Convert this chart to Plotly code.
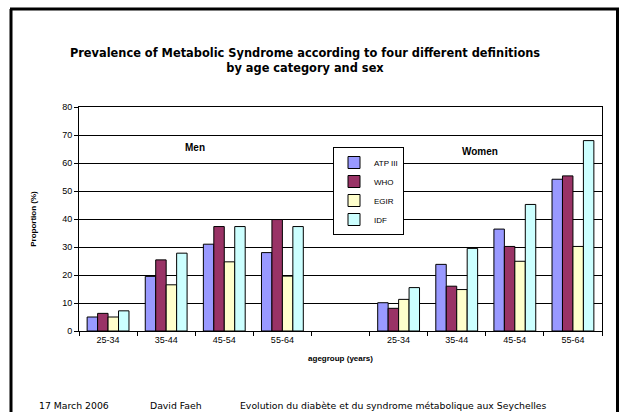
import plotly.graph_objects as go

# ---- data ----
age_groups = ["25-34", "35-44", "45-54", "55-64"]
definitions = ["ATP III", "WHO", "EGIR", "IDF"]
men_atp = [5.0, 19.5, 31.0, 28.0]
men_who = [6.3, 25.4, 37.3, 39.8]
men_egir = [5.0, 16.5, 24.7, 19.6]
men_idf = [7.2, 27.8, 37.3, 37.3]
women_atp = [10.1, 23.8, 36.4, 54.2]
women_who = [8.1, 16.0, 30.2, 55.4]
women_egir = [11.3, 14.8, 24.9, 30.2]
women_idf = [15.5, 29.5, 45.2, 68.0]
colors = ["#9999FF", "#993366", "#FFFFCC", "#CCFFFF"]

men_series = [men_atp, men_who, men_egir, men_idf]
women_series = [women_atp, women_who, women_egir, women_idf]

# positions: men 0..3, empty slot 4, women 5..8
men_x = [0, 1, 2, 3]
women_x = [5, 6, 7, 8]
xpos = men_x + women_x
xlabels = age_groups + age_groups

# ---- layout geometry (pixels, window coords) ----
W, H = 621, 412
PL, PR, PT, PB = 79, 602, 107, 331


def px(x):
    return (x - PL) / (PR - PL)


def py(y):
    return (PB - y) / (PB - PT)


fig = go.Figure()
for name, m, w, c in zip(definitions, men_series, women_series, colors):
    fig.add_trace(go.Bar(
        x=xpos, y=m + w, name=name,
        marker=dict(color=c, line=dict(color="black", width=1)),
    ))

axis_font = dict(family="Arial, Liberation Sans", size=9, color="black")

fig.update_layout(
    width=W, height=H,
    margin=dict(l=PL, r=W - PR, t=PT, b=H - PB, pad=0),
    paper_bgcolor="white", plot_bgcolor="white",
    barmode="group", bargap=0.28, bargroupgap=0,
    showlegend=True,
    legend=dict(
        x=px(333), y=py(147), xanchor="left", yanchor="top",
        bgcolor="white", bordercolor="black", borderwidth=1,
        font=dict(family="Arial, Liberation Sans", size=8, color="black"),
        itemwidth=30, tracegroupgap=0,
    ),
    title=dict(
        text="<b>Prevalence of Metabolic Syndrome according to four different definitions<br>by age category and sex</b>",
        x=305 / W, xref="container", xanchor="center",
        y=1 - 57 / H, yref="container", yanchor="top",
        font=dict(family="Verdana, DejaVu Sans", size=11.4, color="black"),
    ),
    font=axis_font,
)

fig.update_xaxes(
    range=[-0.5, 8.5],
    tickmode="array", tickvals=xpos, ticktext=xlabels, ticks="",
    minor=dict(tickmode="linear", tick0=-0.5, dtick=1, ticks="outside",
               ticklen=4, tickcolor="black", showgrid=False),
    showline=True, linecolor="black", linewidth=1, mirror=True,
    showgrid=False, zeroline=False,
    tickfont=axis_font,
    title=dict(text="<b>agegroup (years)</b>", standoff=11,
               font=dict(family="Arial, Liberation Sans", size=8, color="black")),
)
fig.update_yaxes(
    range=[0, 80], dtick=10, tick0=0,
    ticks="outside", ticklen=4, tickcolor="black",
    showline=True, linecolor="black", linewidth=1, mirror=True,
    showgrid=True, gridcolor="black", gridwidth=1, zeroline=False,
    tickfont=axis_font,
    title=dict(text="<b>Proportion (%)</b>", standoff=24,
               font=dict(family="Arial, Liberation Sans", size=8, color="black")),
)

# sex labels
fig.add_annotation(x=1.5, y=py(147), yref="paper", xref="x", text="<b>Men</b>",
                   showarrow=False, yanchor="middle",
                   font=dict(family="Arial, Liberation Sans", size=10, color="black"))
fig.add_annotation(x=6.4, y=py(151), yref="paper", xref="x", text="<b>Women</b>",
                   showarrow=False, yanchor="middle",
                   font=dict(family="Arial, Liberation Sans", size=10, color="black"))

# footer
foot_font = dict(family="Verdana, DejaVu Sans", size=9.3, color="black")
fig.add_annotation(x=px(37), y=py(405), xref="paper", yref="paper", text="17 March 2006",
                   showarrow=False, xanchor="left", yanchor="middle", font=foot_font)
fig.add_annotation(x=px(148), y=py(405), xref="paper", yref="paper", text="David Faeh",
                   showarrow=False, xanchor="left", yanchor="middle", font=foot_font)
fig.add_annotation(x=px(238), y=py(405), xref="paper", yref="paper",
                   text="Evolution du diabète et du syndrome métabolique aux Seychelles",
                   showarrow=False, xanchor="left", yanchor="middle", font=foot_font)

# slide frame
for x0, y0, x1, y1 in [(11, 9, 11, 420), (10, 9, 619, 9), (617.5, 9, 617.5, 420)]:
    fig.add_shape(type="line", xref="paper", yref="paper",
                  x0=px(x0), y0=py(y0), x1=px(x1), y1=py(y1),
                  line=dict(color="black", width=3))

fig.write_html("out.html", config={"displayModeBar": False},
               post_script="document.body.style.margin='0';document.body.style.overflow='hidden';")
